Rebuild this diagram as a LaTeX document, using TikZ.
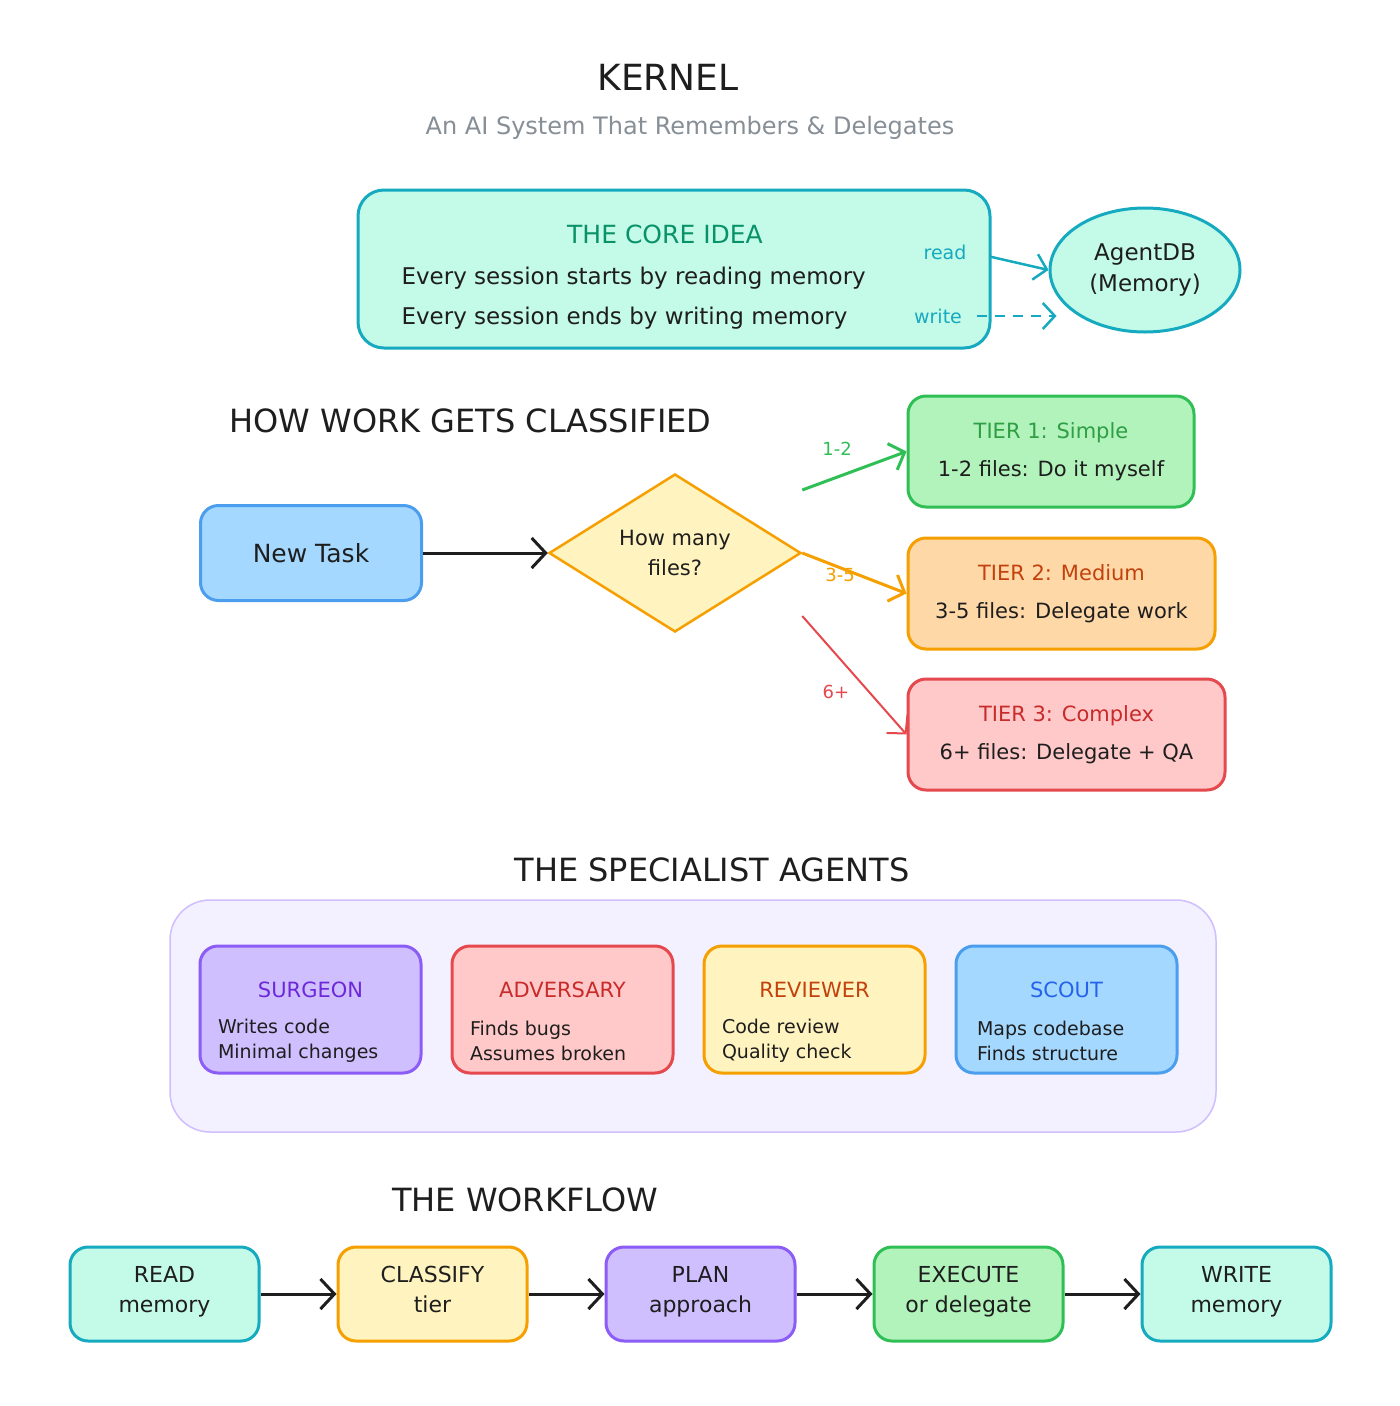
\documentclass[tikz,border=0pt]{standalone}
\usepackage{fontspec}
\setmainfont{DejaVu Sans}
\usepackage{xcolor}
\usepackage{tikz}
\usetikzlibrary{positioning,shapes.geometric,arrows.meta}

\definecolor{ink}{HTML}{1E1E1E}
\definecolor{greytext}{HTML}{868E96}
\definecolor{cyanfill}{HTML}{C3FAE8}
\definecolor{cyanline}{HTML}{15AABF}
\definecolor{tealtext}{HTML}{099268}
\definecolor{bluefill}{HTML}{A5D8FF}
\definecolor{blueline}{HTML}{4A9EED}
\definecolor{bluetext}{HTML}{2563EB}
\definecolor{yellowfill}{HTML}{FFF3BF}
\definecolor{yellowline}{HTML}{F59F00}
\definecolor{greenfill}{HTML}{B2F2BB}
\definecolor{greenline}{HTML}{2FBF55}
\definecolor{greentext}{HTML}{2F9E44}
\definecolor{orangefill}{HTML}{FFD8A8}
\definecolor{orangetext}{HTML}{C2410C}
\definecolor{redfill}{HTML}{FFC9C9}
\definecolor{redline}{HTML}{E5484D}
\definecolor{redtext}{HTML}{C92A2A}
\definecolor{purplefill}{HTML}{D0BFFF}
\definecolor{purpleline}{HTML}{8B5CF6}
\definecolor{purpletext}{HTML}{6D28D9}
\definecolor{panelfill}{HTML}{F3F0FF}
\definecolor{panelline}{HTML}{D0BFFF}

\tikzset{
  box/.style={draw, rounded corners=18pt, line width=3pt, align=center, text=ink},
  flowbox/.style={box, minimum width=189pt, minimum height=94pt, font=\fontsize{22}{30}\selectfont, execute at end node=\strut},
  agentbox/.style={box, minimum width=221pt, minimum height=127pt},
  agenttitle/.style={font=\fontsize{21}{26}\selectfont},
  agentbody/.style={anchor=west, align=left, text=ink, font=\fontsize{19}{25}\selectfont},
  tierbox/.style={box, minimum height=111pt, font=\fontsize{21}{38}\selectfont},
  heading/.style={text=ink, font=\fontsize{32}{38}\selectfont},
  bodytext/.style={text=ink, font=\fontsize{23}{28}\selectfont},
  countlabel/.style={font=\fontsize{18}{22}\selectfont},
  flowarrow/.style={-{Straight Barb[length=14pt,width=30pt]}, line width=3pt, draw=ink}
}

\begin{document}
\begin{tikzpicture}[x=1pt, y=-1pt]
    \useasboundingbox[fill=white] (0,0) rectangle (1400,1406);

    % title
    \node[text=ink, font=\fontsize{36}{44}\selectfont] (kernel) at (668,77) {KERNEL};
    \node[text=greytext, font=\fontsize{24}{28}\selectfont] (subtitle) at (690,128) {An AI System That Remembers \& Delegates};

    % core idea
    \node[box, fill=cyanfill, draw=cyanline, rounded corners=26pt, minimum width=632pt, minimum height=158pt] (core) at (674,269) {};
    \node[text=tealtext, font=\fontsize{25}{30}\selectfont] (coretitle) at (665,234) {THE CORE IDEA};
    \node[bodytext, anchor=west] (startline) at (398,278) {Every session starts by reading memory};
    \node[bodytext, anchor=west] (endline) at (398,318) {Every session ends by writing memory};
    \node[ellipse, draw=cyanline, fill=cyanfill, line width=3pt, minimum width=190pt, minimum height=124pt, align=center, text=ink, font=\fontsize{23}{31}\selectfont] (agentdb) at (1145,270) {AgentDB\\(Memory)};
    \node[text=cyanline, font=\fontsize{19}{24}\selectfont] (readlbl) at (945,252) {read};
    \node[text=cyanline, font=\fontsize{19}{24}\selectfont] (writelbl) at (938,316) {write};
    \draw[-{Straight Barb[length=12pt,width=26pt]}, line width=2.5pt, cyanline, shorten <=20pt] (readlbl.east) -- (agentdb.west);
    \draw[-{Straight Barb[length=12pt,width=26pt]}, line width=2.5pt, cyanline, dashed, dash pattern=on 10pt off 8pt, shorten <=12pt, shorten >=-8pt] (writelbl.east) -- (writelbl.east -| agentdb.west);

    % classification
    \node[heading, anchor=west] (classhead) at (226,421) {HOW WORK GETS CLASSIFIED};
    \node[box, fill=bluefill, draw=blueline, minimum width=221pt, minimum height=95pt, font=\fontsize{25}{30}\selectfont] (newtask) at (311,553) {New Task};
    \node[diamond, draw=yellowline, fill=yellowfill, line width=2.5pt, minimum width=252pt, minimum height=158pt, inner sep=0pt, align=center, text=ink, font=\fontsize{21}{30}\selectfont] (howmany) at (675,553) {How many\\files?};
    \draw[flowarrow] (newtask) -- (howmany);

    \node[tierbox, fill=greenfill, draw=greenline, minimum width=286pt] (tier1) at (1051,451.5) {{\color{greentext}TIER 1: Simple}\\1-2 files: Do it myself};
    \node[tierbox, fill=orangefill, draw=yellowline, minimum width=307pt] (tier2) at (1061.5,593.5) {{\color{orangetext}TIER 2: Medium}\\3-5 files: Delegate work};
    \node[tierbox, fill=redfill, draw=redline, minimum width=317pt] (tier3) at (1066.5,734.5) {{\color{redtext}TIER 3: Complex}\\6+ files: Delegate + QA};

    \draw[-{Straight Barb[length=13pt,width=28pt]}, line width=3pt, greenline] ([yshift=63pt]howmany.east) -- (tier1.west);
    \draw[-{Straight Barb[length=13pt,width=28pt]}, line width=3pt, yellowline] (howmany.east) -- (tier2.west);
    \draw[-{Straight Barb[length=13pt,width=28pt]}, line width=2pt, redline] ([yshift=-63pt]howmany.east) -- (tier3.west);
    \node[countlabel, text=greenline] (onetwo) at (837,449) {1-2};
    \node[countlabel, text=yellowline] (threefive) at (840,575) {3-5};
    \node[countlabel, text=redline] (sixplus) at (836,692) {6+};

    % agents
    \node[heading] (agenthead) at (712,870) {THE SPECIALIST AGENTS};
    \node[draw=panelline, fill=panelfill, line width=1.5pt, rounded corners=40pt, minimum width=1046pt, minimum height=232pt] (panel) at (693,1016) {};
    \node[agentbox, fill=purplefill, draw=purpleline] (surgeon) at (310.5,1009.5) {};
    \node[agentbox, fill=redfill, draw=redline, right=28pt of surgeon] (adversary) {};
    \node[agentbox, fill=yellowfill, draw=yellowline, right=28pt of adversary] (reviewer) {};
    \node[agentbox, fill=bluefill, draw=blueline, right=28pt of reviewer] (scout) {};
    \node[agenttitle, text=purpletext] (surgeontitle) at ([yshift=19.5pt]surgeon.center) {SURGEON};
    \node[agenttitle, text=redtext] (adversarytitle) at ([yshift=19.5pt]adversary.center) {ADVERSARY};
    \node[agenttitle, text=orangetext] (reviewertitle) at ([yshift=19.5pt]reviewer.center) {REVIEWER};
    \node[agenttitle, text=bluetext] (scouttitle) at ([yshift=19.5pt]scout.center) {SCOUT};
    \node[agentbody] (surgeontext) at ([xshift=16pt,yshift=-31pt]surgeon.west) {Writes code\\Minimal changes};
    \node[agentbody] (adversarytext) at ([xshift=16pt,yshift=-31pt]adversary.west) {Finds bugs\\Assumes broken};
    \node[agentbody] (reviewertext) at ([xshift=16pt,yshift=-31pt]reviewer.west) {Code review\\Quality check};
    \node[agentbody] (scouttext) at ([xshift=19pt,yshift=-31pt]scout.west) {Maps codebase\\Finds structure};

    % workflow
    \node[heading] (flowhead) at (525,1200) {THE WORKFLOW};
    \node[flowbox, fill=cyanfill, draw=cyanline] (readstep) at (164.5,1294) {READ\\memory};
    \node[flowbox, fill=yellowfill, draw=yellowline, right=76pt of readstep] (classifystep) {CLASSIFY\\tier};
    \node[flowbox, fill=purplefill, draw=purpleline, right=76pt of classifystep] (planstep) {PLAN\\approach};
    \node[flowbox, fill=greenfill, draw=greenline, right=76pt of planstep] (executestep) {EXECUTE\\or delegate};
    \node[flowbox, fill=cyanfill, draw=cyanline, right=76pt of executestep] (writestep) {WRITE\\memory};
    \draw[flowarrow] (readstep) -- (classifystep);
    \draw[flowarrow] (classifystep) -- (planstep);
    \draw[flowarrow] (planstep) -- (executestep);
    \draw[flowarrow] (executestep) -- (writestep);
\end{tikzpicture}
\end{document}
